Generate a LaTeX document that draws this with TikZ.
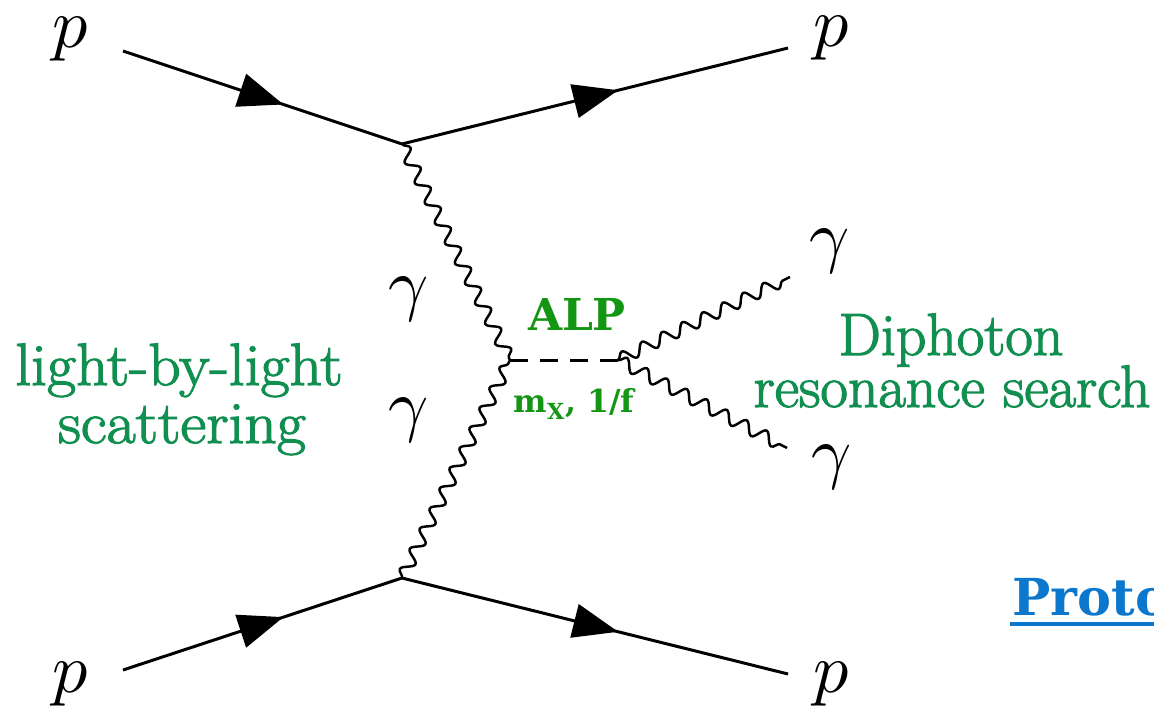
\documentclass[tikz,border=0pt]{standalone}
\usepackage{unicode-math}
\setmathfont{Latin Modern Math}
\newfontfamily\gfont{Latin Modern Roman}[FakeBold=2]
\newfontfamily\gfontwide{Latin Modern Roman}[FakeBold=2, FakeStretch=1.06]
\newfontfamily\slabfont{DejaVu Serif}
\usetikzlibrary{arrows.meta,decorations.markings,decorations.pathmorphing}
\definecolor{lblgreen}{RGB}{16,143,80}
\definecolor{alpgreen}{RGB}{20,150,20}
\definecolor{protoblue}{RGB}{12,120,205}
\tikzset{
  fermion/.style={line width=1.7pt, postaction={decorate},
    decoration={markings, mark=at position #1 with {\arrow{Triangle[length=0.9cm,width=0.68cm]}}}},
  photon/.style={line width=1.4pt, decorate,
    decoration={snake, segment length=0.45cm, amplitude=0.12cm}},
  scalar/.style={line width=1.7pt, dash pattern=on 0.36cm off 0.24cm},
  plab/.style={font=\fontsize{40}{44}\selectfont, inner sep=0pt},
  glab/.style={font=\fontsize{34}{38}\selectfont\gfont, text=lblgreen, inner sep=0pt, anchor=base},
  glabw/.style={font=\fontsize{34}{38}\selectfont\gfontwide, text=lblgreen, inner sep=0pt, anchor=base},
}
\begin{document}
\begin{tikzpicture}[x=0.02cm,y=-0.02cm]
\useasboundingbox (0,0) rectangle (1154,711);
\clip (0,0) rectangle (1154,711);
% vertices
\coordinate (vt) at (402,144);
\coordinate (vb) at (402,578);
\coordinate (vl) at (510,360);
\coordinate (vr) at (618,360);
% external ends
\coordinate (inT) at (123,51);
\coordinate (outT) at (788,48);
\coordinate (inB) at (123,670);
\coordinate (outB) at (788,674);
\coordinate (gU) at (790,277);
\coordinate (gD) at (787,448);
% fermions
\draw[fermion=0.575] (inT) -- (vt);
\draw[fermion=0.56] (vt) -- (outT);
\draw[fermion=0.575] (inB) -- (vb);
\draw[fermion=0.56] (vb) -- (outB);
% photons
\draw[photon] (vt) -- (vl);
\draw[photon] (vb) -- (vl);
\draw[photon] (vr) -- (gU);
\draw[photon] (vr) -- (gD);
% ALP
\draw[scalar] (vl) -- (vr);
% particle labels
\node[plab] (pTL) at (71,39) {$p$};
\node[plab] (pBL) at (71,684) {$p$};
\node[plab] (pTR) at (832,38) {$p$};
\node[plab] (pBR) at (832,684) {$p$};
\node[plab] (gamL1) at (409,300) {$\gamma$};
\node[plab] (gamL2) at (409,421) {$\gamma$};
\node[plab] (gamR1) at (830,252) {$\gamma$};
\node[plab] (gamR2) at (832,468) {$\gamma$};
% ALP labels
\node[font=\fontsize{25}{28}\selectfont\slabfont\bfseries, text=alpgreen, anchor=base, inner sep=0pt] (alp) at (577,330) {ALP};
\node[font=\fontsize{18}{22}\selectfont\slabfont\bfseries, text=alpgreen, anchor=base, inner sep=0pt] (mx) at (574,412) {m\textsubscript{X}, 1/f};
% green annotations
\node[glabw] (lbl1) at (179,385) {light-by-light};
\node[glabw] (lbl2) at (182,443) {scattering};
\node[glab] (dip1) at (951,355) {Diphoton};
\node[glab] (dip2) at (952,407) {resonance search};
% proton label cut at edge
\node[font=\fontsize{29}{32}\selectfont\slabfont\bfseries, text=protoblue, anchor=base west, inner sep=0pt] (proto) at (1012,615) {Proto};
\draw[protoblue, line width=2.2pt] (1010,624) -- (1160,624);
\end{tikzpicture}
\end{document}
